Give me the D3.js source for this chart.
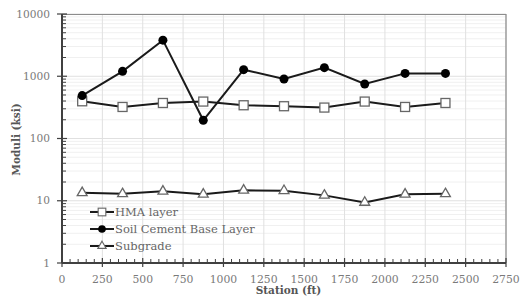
<!DOCTYPE html>
<html>
<head>
<meta charset="utf-8">
<script src="https://cdn.jsdelivr.net/npm/d3@7"></script>
<style>
  body { margin: 0; background: #fff; }
</style>
</head>
<body>
<svg id="chart" width="522" height="301" font-family="DejaVu Serif, serif"></svg>
<script>
// station positions (ft)
var stations = [125, 375, 625, 875, 1125, 1375, 1625, 1875, 2125, 2375];
// moduli (ksi)
var hma = [396, 321, 372, 392, 342, 330, 314, 392, 321, 372];
var soilCement = [489, 1199, 3800, 196, 1276, 902, 1374, 750, 1112, 1112];
var subgrade = [13.4, 12.9, 14.2, 12.7, 14.7, 14.5, 12.2, 9.4, 12.7, 12.9];

var xTicks = [0, 250, 500, 750, 1000, 1250, 1500, 1750, 2000, 2250, 2500, 2750];
var yTicks = [1, 10, 100, 1000, 10000];
var seriesNames = ["HMA layer", "Soil Cement Base Layer", "Subgrade"];

var svg = d3.select("#chart"),
    margin = {top: 14, right: 16, bottom: 38, left: 62},
    width = 522 - margin.left - margin.right,
    height = 301 - margin.top - margin.bottom,
    g = svg.append("g").attr("transform", "translate(" + margin.left + "," + margin.top + ")");

var x = d3.scaleLinear().domain([0, 2750]).range([0, width]);
var y = d3.scaleLog().domain([1, 10000]).range([height, 0]);

// minor grid
var minorY = [];
for (var d = 1; d < 10000; d *= 10) {
  for (var k = 2; k <= 9; k++) minorY.push(d * k);
}
g.selectAll(".gminor").data(minorY).enter().append("line")
  .attr("x1", 0).attr("x2", width)
  .attr("y1", function(v) { return y(v); }).attr("y2", function(v) { return y(v); })
  .attr("stroke", "#f0f0f0").attr("stroke-width", 1);

g.selectAll(".gy").data(yTicks).enter().append("line")
  .attr("x1", 0).attr("x2", width)
  .attr("y1", function(v) { return y(v); }).attr("y2", function(v) { return y(v); })
  .attr("stroke", "#e0e0e0").attr("stroke-width", 1);

g.selectAll(".gx").data(xTicks).enter().append("line")
  .attr("y1", 0).attr("y2", height)
  .attr("x1", function(v) { return x(v); }).attr("x2", function(v) { return x(v); })
  .attr("stroke", "#e0e0e0").attr("stroke-width", 1);

// frame top / right
g.append("path")
  .attr("d", "M0,0.5H" + width + "V" + height)
  .attr("fill", "none").attr("stroke", "#8c8c8c").attr("stroke-width", 1.2);

// minor ticks on x (every 50, inside)
var minorX = d3.range(50, 2750, 50).filter(function(v) { return v % 250 !== 0; });
g.selectAll(".mx").data(minorX).enter().append("line")
  .attr("x1", function(v) { return x(v); }).attr("x2", function(v) { return x(v); })
  .attr("y1", height).attr("y2", height - 4)
  .attr("stroke", "#404040").attr("stroke-width", 1);
g.selectAll(".Mx").data(xTicks).enter().append("line")
  .attr("x1", function(v) { return x(v); }).attr("x2", function(v) { return x(v); })
  .attr("y1", height + 4).attr("y2", height - 5)
  .attr("stroke", "#404040").attr("stroke-width", 1.2);

// minor ticks on y (inside)
g.selectAll(".my").data(minorY).enter().append("line")
  .attr("x1", 0).attr("x2", 4)
  .attr("y1", function(v) { return y(v); }).attr("y2", function(v) { return y(v); })
  .attr("stroke", "#404040").attr("stroke-width", 1);
g.selectAll(".My").data(yTicks).enter().append("line")
  .attr("x1", -5).attr("x2", 5)
  .attr("y1", function(v) { return y(v); }).attr("y2", function(v) { return y(v); })
  .attr("stroke", "#404040").attr("stroke-width", 1.2);

// axis lines
g.append("line").attr("x1", 0).attr("x2", width).attr("y1", height).attr("y2", height)
  .attr("stroke", "#404040").attr("stroke-width", 2);
g.append("line").attr("x1", 0).attr("x2", 0).attr("y1", 0).attr("y2", height)
  .attr("stroke", "#404040").attr("stroke-width", 2);

// tick labels
g.selectAll(".lx").data(xTicks).enter().append("text")
  .attr("x", function(v) { return x(v); }).attr("y", height + 19.5)
  .attr("text-anchor", "middle").attr("font-size", 10.8).attr("fill", "#7a7a7a")
  .text(function(v) { return v; });
g.selectAll(".ly").data(yTicks).enter().append("text")
  .attr("x", -12).attr("y", function(v) { return y(v); }).attr("dy", "0.35em")
  .attr("text-anchor", "end").attr("font-size", 10.6).attr("fill", "#7a7a7a")
  .text(function(v) { return v; });

// axis titles
g.append("text")
  .attr("x", width / 2 + 4.5).attr("y", height + 31)
  .attr("text-anchor", "middle").attr("font-size", 10.5).attr("font-weight", "bold").attr("fill", "#555")
  .text("Station (ft)");
g.append("text")
  .attr("transform", "translate(-42," + (height / 2 + 1) + ") rotate(-90)")
  .attr("text-anchor", "middle").attr("font-size", 10.5).attr("font-weight", "bold").attr("fill", "#555")
  .text("Moduli (ksi)");

var line = d3.line()
  .x(function(d) { return x(d[0]); })
  .y(function(d) { return y(d[1]); });

var series = [hma, soilCement, subgrade].map(function(vals, i) {
  return { name: seriesNames[i], type: i, values: stations.map(function(s, j) { return [s, vals[j]]; }) };
});

function drawMarker(sel, type) {
  if (type === 0) {
    sel.append("rect").attr("x", -4.5).attr("y", -4.5).attr("width", 9).attr("height", 9)
      .attr("fill", "#fff").attr("stroke", "#666").attr("stroke-width", 1.3);
  } else if (type === 1) {
    sel.append("circle").attr("r", 4.5).attr("fill", "#000");
  } else {
    sel.append("path").attr("d", d3.symbol(d3.symbolTriangle, 42)())
      .attr("fill", "#fff").attr("stroke", "#666").attr("stroke-width", 1.3);
  }
}

series.forEach(function(s) {
  g.append("path").attr("d", line(s.values))
    .attr("fill", "none").attr("stroke", "#1a1a1a").attr("stroke-width", 2);
  s.values.forEach(function(p) {
    var m = g.append("g").attr("transform", "translate(" + x(p[0]) + "," + y(p[1]) + ")");
    drawMarker(m, s.type);
  });
});

// legend
var legend = g.append("g").attr("transform", "translate(28,198)");
series.forEach(function(s, i) {
  var row = legend.append("g").attr("transform", "translate(0," + (i * 17) + ")");
  row.append("line").attr("x1", 0).attr("x2", 24).attr("y1", 0).attr("y2", 0)
    .attr("stroke", "#1a1a1a").attr("stroke-width", 2);
  var m = row.append("g").attr("transform", "translate(12,0) scale(0.85)");
  drawMarker(m, s.type);
  row.append("text").attr("x", 25).attr("y", 0).attr("dy", "0.35em")
    .attr("font-size", 11.5).attr("fill", "#666").text(s.name);
});
</script>
</body>
</html>
